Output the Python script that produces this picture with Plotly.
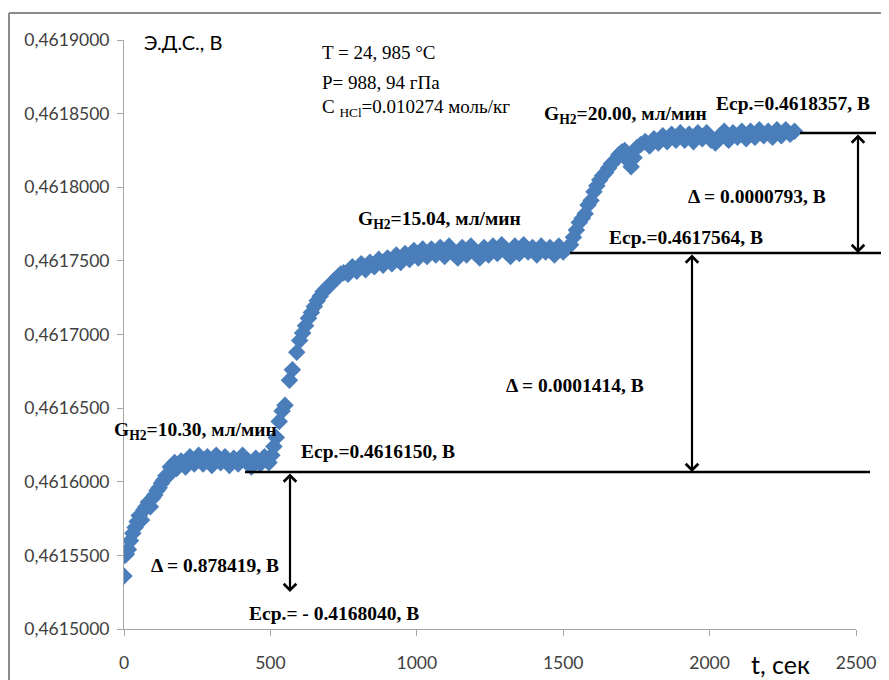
import plotly.graph_objects as go

# ---------------- data ----------------
t_stage1 = [0, 3, 8, 15, 22, 30, 38, 45, 52, 60, 68, 75, 83, 90, 98, 105, 113, 120, 128, 135,
            143, 150, 158, 165, 173, 180, 195, 210, 225, 240, 255, 270, 285, 300, 315, 330,
            345, 360, 375, 390, 405, 420, 435, 450, 465, 480, 495]
e_stage1 = [0.461536, 0.461550, 0.461551, 0.461554, 0.461560, 0.461565, 0.461569, 0.461573,
            0.461577, 0.461574, 0.461581, 0.461583, 0.461586, 0.461583, 0.461589, 0.461591,
            0.461594, 0.461596, 0.461599, 0.461601, 0.461604, 0.461605, 0.461610, 0.461607,
            0.461613, 0.461609, 0.461614, 0.461610, 0.461617, 0.461612, 0.461618, 0.461612,
            0.461617, 0.461611, 0.461618, 0.461613, 0.461617, 0.461611, 0.461616, 0.461612,
            0.461618, 0.461613, 0.461610, 0.461616, 0.461612, 0.461617, 0.461613]

t_stage2 = [505, 512, 520, 530, 540, 550, 565, 575, 590, 600, 610, 620, 630, 640, 650, 660,
            670, 680, 690, 700, 710, 720, 730, 740, 750, 765, 780, 795, 810, 825, 840, 855,
            870, 885, 900, 915, 930, 945, 960, 975, 990, 1005, 1020, 1035, 1050, 1065, 1080,
            1095, 1110, 1125, 1140, 1155, 1170, 1185, 1200, 1215, 1230, 1245, 1260, 1275,
            1290, 1305, 1320, 1335, 1350, 1365, 1380, 1395, 1410, 1425, 1440, 1455, 1470,
            1485, 1500, 1515]
e_stage2 = [0.461618, 0.461624, 0.461630, 0.461641, 0.461648, 0.461652, 0.461669, 0.461676,
            0.461688, 0.461696, 0.461701, 0.461706, 0.461711, 0.461715, 0.461719, 0.461723,
            0.461726, 0.461729, 0.461731, 0.461733, 0.461735, 0.461737, 0.461739, 0.461741,
            0.461742, 0.461741, 0.461746, 0.461743, 0.461748, 0.461744, 0.461749, 0.461746,
            0.461751, 0.461747, 0.461752, 0.461748, 0.461754, 0.461749, 0.461755, 0.461751,
            0.461757, 0.461752, 0.461758, 0.461753, 0.461758, 0.461754, 0.461759, 0.461753,
            0.461760, 0.461755, 0.461752, 0.461759, 0.461754, 0.461760, 0.461755, 0.461752,
            0.461759, 0.461754, 0.461760, 0.461755, 0.461761, 0.461756, 0.461753, 0.461760,
            0.461755, 0.461761, 0.461756, 0.461759, 0.461754, 0.461760, 0.461756, 0.461759,
            0.461754, 0.461760, 0.461756, 0.461759]

t_stage3 = [1525, 1535, 1545, 1555, 1565, 1575, 1585, 1595, 1605, 1615, 1625, 1635, 1645,
            1655, 1665, 1675, 1690, 1700, 1710, 1722, 1732, 1742, 1752, 1765, 1780, 1795,
            1810, 1825, 1840, 1855, 1870, 1885, 1900, 1915, 1930, 1945, 1960, 1975, 1990,
            2005, 2020, 2035, 2050, 2065, 2080, 2095, 2110, 2125, 2140, 2155, 2170, 2185,
            2200, 2215, 2230, 2245, 2260, 2275, 2290]
e_stage3 = [0.461761, 0.461766, 0.461771, 0.461776, 0.461779, 0.461782, 0.461788, 0.461791,
            0.461797, 0.461801, 0.461805, 0.461808, 0.461810, 0.461813, 0.461816, 0.461818,
            0.461822, 0.461824, 0.461825, 0.461818, 0.461814, 0.461820, 0.461827, 0.461829,
            0.461831, 0.461828, 0.461833, 0.461830, 0.461835, 0.461831, 0.461836, 0.461832,
            0.461837, 0.461832, 0.461836, 0.461831, 0.461837, 0.461833, 0.461837, 0.461832,
            0.461830, 0.461835, 0.461838, 0.461832, 0.461837, 0.461834, 0.461838, 0.461833,
            0.461838, 0.461834, 0.461839, 0.461835, 0.461838, 0.461834, 0.461839, 0.461835,
            0.461839, 0.461836, 0.461838]

x_ticks = [0, 500, 1000, 1500, 2000, 2500]
y_ticks = [0.4615, 0.46155, 0.4616, 0.46165, 0.4617, 0.46175, 0.4618, 0.46185, 0.4619]
y_tick_labels = ["0,4615000", "0,4615500", "0,4616000", "0,4616500", "0,4617000",
                 "0,4617500", "0,4618000", "0,4618500", "0,4619000"]

flow_labels = ["10.30", "15.04", "20.00"]
ecp_labels = ["0.4616150", "0.4617564", "0.4618357", "- 0.4168040"]
delta_labels = ["0.878419", "0.0001414", "0.0000793"]
info_lines = ["T = 24, 985 °C", "P= 988, 94 гПа", "C <sub>HCl</sub>=0.010274 моль/кг"]

# ---------------- figure ----------------
OFF = 8                      # page body margin of the html
W, H = 889 - OFF, 680 - OFF
L, T = 124 - OFF, 40 - OFF
PW, PH = 732, 589
R, B = W - L - PW, H - T - PH


def fx(px):                  # window pixel -> paper x
    return (px - OFF - L) / PW


def fy(py):                  # window pixel -> paper y
    return (OFF + T + PH - py) / PH


t_all = t_stage1 + t_stage2 + t_stage3
e_all = e_stage1 + e_stage2 + e_stage3

blue = "#4A7EBB"
fig = go.Figure()
fig.add_trace(go.Scatter(
    x=t_all, y=e_all, mode="markers",
    marker=dict(symbol="diamond", size=13.5, color=blue, line=dict(width=0)),
    showlegend=False, hoverinfo="x+y"))

axis_col = "#A6A6A6"
tick_font = dict(family="Lato", size=17.5, color="#404040")
fig.update_xaxes(range=[0, 2500], tickvals=x_ticks, ticktext=[str(v) for v in x_ticks],
                 showgrid=False, zeroline=False, showline=True, linecolor=axis_col,
                 linewidth=1, ticks="outside", ticklen=6, tickcolor=axis_col,
                 tickfont=tick_font, ticklabelstandoff=12)
fig.update_yaxes(range=[0.4615, 0.4619], tickvals=y_ticks, ticktext=y_tick_labels,
                 showgrid=False, zeroline=False, showline=True, linecolor=axis_col,
                 linewidth=1, ticks="outside", ticklen=6, tickcolor=axis_col,
                 tickfont=tick_font, ticklabelstandoff=4)

shapes = []
frame_col = "#8C8C8C"
shapes.append(dict(type="line", xref="paper", yref="paper", x0=fx(9), x1=fx(900),
                   y0=fy(13), y1=fy(13), line=dict(color=frame_col, width=2)))
shapes.append(dict(type="line", xref="paper", yref="paper", x0=fx(9), x1=fx(9),
                   y0=fy(13), y1=fy(700), line=dict(color=frame_col, width=2)))

levels = [(245, 870, 472), (570, 889, 253), (800, 876, 133)]
for x0, x1, py in levels:
    shapes.append(dict(type="line", xref="paper", yref="paper", x0=fx(x0), x1=fx(x1),
                       y0=fy(py), y1=fy(py), line=dict(color="black", width=2.5)))
fig.update_layout(shapes=shapes)

ann = []
arrows = [(290, 472, 592), (692, 253, 472), (858, 133, 253)]
for px, ytop, ybot in arrows:
    ann.append(dict(xref="paper", yref="paper", x=fx(px), y=fy(ybot),
                    axref="pixel", ayref="pixel", ax=0, ay=-(ybot - ytop),
                    text="", showarrow=True, arrowhead=4, startarrowhead=4,
                    arrowside="end+start", arrowsize=1.1, startarrowsize=1.1,
                    arrowwidth=2.2, arrowcolor="black", standoff=0, startstandoff=0))

serif_b = dict(family="Liberation Serif", size=19.5, color="black")


def label(text, px, py, font):
    ann.append(dict(xref="paper", yref="paper", x=fx(px), y=fy(py), text=text,
                    showarrow=False, xanchor="left", yanchor="middle", font=font))


label("<b>G<sub>H2</sub>=%s, мл/мин</b>" % flow_labels[0], 112, 431, serif_b)
label("<b>G<sub>H2</sub>=%s, мл/мин</b>" % flow_labels[1], 356, 220, serif_b)
label("<b>G<sub>H2</sub>=%s, мл/мин</b>" % flow_labels[2], 542, 115, serif_b)
label("<b>Еср.=%s, В</b>" % ecp_labels[0], 299, 451, serif_b)
label("<b>Еср.=%s, В</b>" % ecp_labels[1], 607, 237, serif_b)
label("<b>Еср.=%s, В</b>" % ecp_labels[2], 714, 103, serif_b)
label("<b>Еср.= %s, В</b>" % ecp_labels[3], 247, 613, serif_b)
label("<b>Δ = %s, В</b>" % delta_labels[0], 149, 565, serif_b)
label("<b>Δ = %s, В</b>" % delta_labels[1], 504, 385, serif_b)
label("<b>Δ = %s, В</b>" % delta_labels[2], 686, 197, serif_b)

serif = dict(family="Liberation Serif", size=19, color="black")
for line, py in zip(info_lines, [53, 82, 108]):
    label(line, 320, py, serif)

label("Э.Д.С., В", 142, 42, dict(family="Lato", size=20, color="black"))
label("t, сек", 749, 664, dict(family="Lato", size=25, color="black"))

fig.update_layout(annotations=ann)
fig.update_layout(width=W, height=H, margin=dict(l=L, r=R, t=T, b=B, autoexpand=False),
                  paper_bgcolor="white", plot_bgcolor="white", showlegend=False)

fig.write_html("out.html")
